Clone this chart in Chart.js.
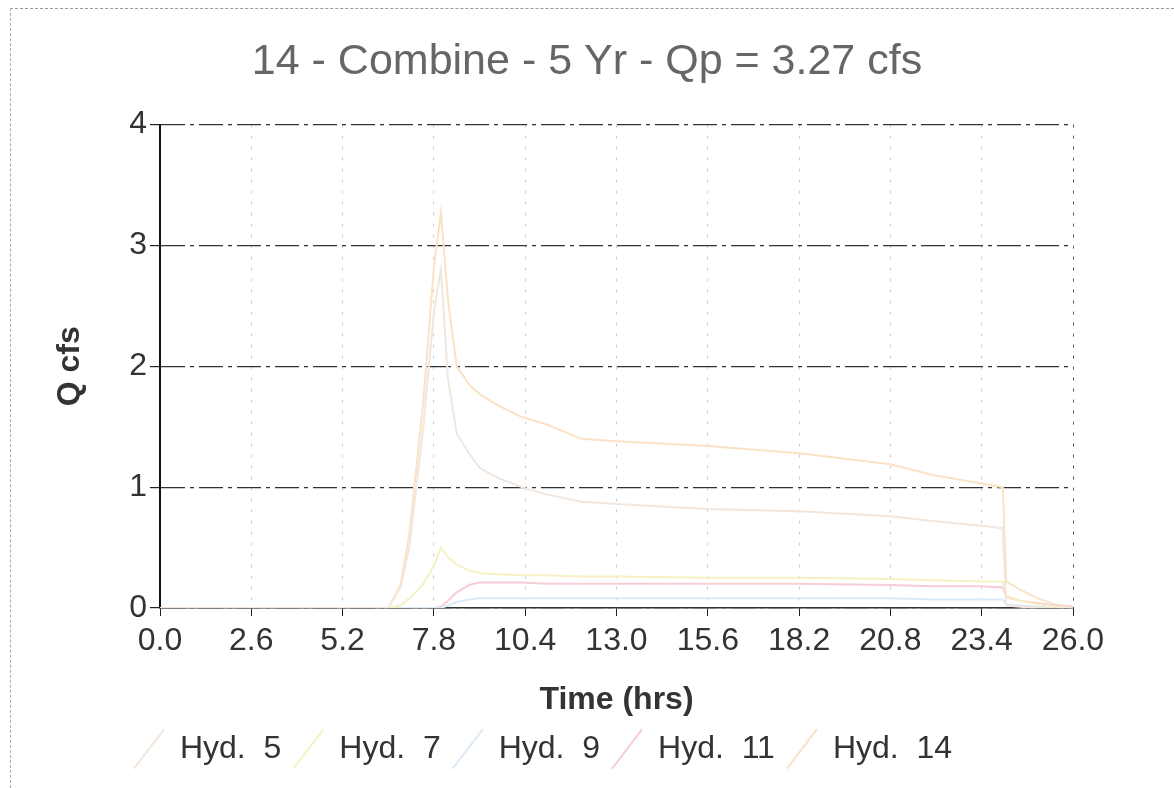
<!DOCTYPE html>
<html>
<head>
<meta charset="utf-8">
<script src="https://cdn.jsdelivr.net/npm/chart.js@4/dist/chart.umd.min.js"></script>
<style>
  body { margin: 0; background: #fff; }
  #wrap { position: relative; width: 1174px; height: 788px; }
  #frame { position: absolute; left: 10px; top: 8px; right: 0; bottom: 0;
           border-top: 1px dashed #999; border-left: 1px dashed #aaa; }
  canvas { position: absolute; left: 0; top: 0; }
</style>
</head>
<body>
<div id="wrap">
  <div id="frame"></div>
  <canvas id="hydChart" width="1174" height="788"></canvas>
</div>
<script>
// time (hrs) of each reading
const times = [0, 6.5, 6.85, 7.1, 7.5, 7.8, 8.0, 8.2, 8.45, 8.8, 9.1, 9.6, 10.3, 11.0, 12.0, 13.0,
  15.6, 18.2, 20.8, 22.0, 23.4, 24.0, 24.1, 24.5, 25.0, 25.5, 26.0];

// flows, cfs
const hyd5 = [0, 0, 0.17, 0.5, 1.5, 2.45, 2.8, 1.9, 1.44, 1.28, 1.16, 1.08, 1.0, 0.94, 0.88, 0.86,
  0.82, 0.8, 0.76, 0.72, 0.68, 0.66, 0.02, 0.01, 0, 0, 0];
const hyd7 = [0, 0, 0.02, 0.08, 0.2, 0.35, 0.5, 0.42, 0.36, 0.31, 0.29, 0.28, 0.27, 0.27, 0.26, 0.26,
  0.25, 0.25, 0.24, 0.23, 0.22, 0.22, 0.1, 0.06, 0.03, 0.01, 0];
const hyd9 = [0, 0, 0, 0, 0, 0, 0, 0.02, 0.05, 0.07, 0.08, 0.08, 0.08, 0.08, 0.08, 0.08,
  0.08, 0.08, 0.08, 0.07, 0.07, 0.07, 0.03, 0.02, 0.01, 0.005, 0];
const hyd11 = [0, 0, 0, 0, 0, 0, 0.01, 0.06, 0.13, 0.19, 0.21, 0.21, 0.21, 0.2, 0.2, 0.2,
  0.2, 0.2, 0.19, 0.18, 0.18, 0.17, 0.09, 0.06, 0.04, 0.02, 0.01];
const hyd14 = [0, 0, 0.19, 0.61, 1.71, 2.82, 3.27, 2.55, 2.0, 1.85, 1.77, 1.68, 1.58, 1.52, 1.4, 1.38,
  1.34, 1.28, 1.19, 1.1, 1.03, 1.0, 0.22, 0.15, 0.08, 0.03, 0.01];

const xTicks = [0, 2.6, 5.2, 7.8, 10.4, 13.0, 15.6, 18.2, 20.8, 23.4, 26.0];
const yTicks = [0, 1, 2, 3, 4];

const FONT = "'Liberation Sans', Arial, sans-serif";

function pts(arr) {
  return times.map((t, i) => ({ x: t, y: arr[i] }));
}

function series(label, arr, color) {
  return {
    label: label,
    data: pts(arr),
    borderColor: color,
    backgroundColor: color,
    borderWidth: 2,
    pointRadius: 0,
    pointStyle: "line",
    pointRotation: -60,
    tension: 0,
    fill: false,
  };
}

// nudge legend left, like the original
const legendShift = {
  id: "legendShift",
  afterLayout(chart) {
    chart.legend.left -= 44;
    chart.legend.right -= 44;
  },
};

const ctx = document.getElementById("hydChart").getContext("2d");
const hydChart = new Chart(ctx, {
  type: "line",
  data: {
    datasets: [
      series("Hyd.  5", hyd5, "#f3e6dc"),
      series("Hyd.  7", hyd7, "#f5f1c4"),
      series("Hyd.  9", hyd9, "#dceaf6"),
      series("Hyd.  11", hyd11, "#f8ccd6"),
      series("Hyd.  14", hyd14, "#fae3c4"),
    ],
  },
  plugins: [legendShift],
  options: {
    responsive: false,
    animation: false,
    layout: { padding: { left: 0, right: 0, top: 0, bottom: 13 } },
    plugins: {
      title: {
        display: true,
        text: "14 - Combine - 5 Yr - Qp = 3.27 cfs",
        color: "#666",
        font: { family: FONT, size: 43, weight: "normal", lineHeight: 1.2 },
        padding: { top: 36, bottom: 37 },
      },
      legend: {
        position: "bottom",
        labels: {
          color: "#333",
          font: { family: FONT, size: 32, lineHeight: 1.2 },
          usePointStyle: true,
          pointStyleWidth: 30,
          boxWidth: 30,
          padding: 12,
        },
      },
      tooltip: { enabled: false },
    },
    scales: {
      x: {
        type: "linear",
        min: 0,
        max: 26,
        afterBuildTicks: (scale) => {
          scale.ticks = xTicks.map((v) => ({ value: v }));
        },
        afterFit: (scale) => {
          scale.height = 113;
        },
        ticks: {
          color: "#333",
          font: { family: FONT, size: 32 },
          padding: 6,
          maxRotation: 0,
          autoSkip: false,
          callback: (v) => Number(v).toFixed(1),
        },
        grid: {
          color: (c) => (c.tick && c.tick.value === 26 ? "#555" : "#cccccc"),
          lineWidth: 1,
          tickColor: "#222",
          tickLength: 8,
        },
        border: { display: true, color: "#333", width: 1.5, dash: [3, 8] },
        title: {
          display: true,
          text: "Time (hrs)",
          color: "#333",
          font: { family: FONT, size: 32, weight: "bold", lineHeight: 1.2 },
          padding: { top: 0, bottom: 2 },
        },
      },
      y: {
        min: 0,
        max: 4,
        afterBuildTicks: (scale) => {
          scale.ticks = yTicks.map((v) => ({ value: v }));
        },
        afterFit: (scale) => {
          scale.width = 160;
        },
        ticks: {
          color: "#333",
          font: { family: FONT, size: 32 },
          padding: 3,
        },
        grid: {
          color: "#333",
          lineWidth: 1.2,
          tickColor: "#222",
          tickLength: 10,
        },
        border: { display: true, color: "#111", width: 2, dash: [24, 5, 4, 5] },
        title: {
          display: true,
          text: "Q cfs",
          color: "#333",
          font: { family: FONT, size: 32, weight: "bold", lineHeight: 1.2 },
          padding: { top: 51, bottom: 0 },
        },
      },
      y2: {
        position: "right",
        display: true,
        afterFit: (scale) => {
          scale.width = 101;
        },
        ticks: { display: false },
        grid: { display: false },
        border: { display: false },
      },
    },
  },
});
</script>
</body>
</html>
